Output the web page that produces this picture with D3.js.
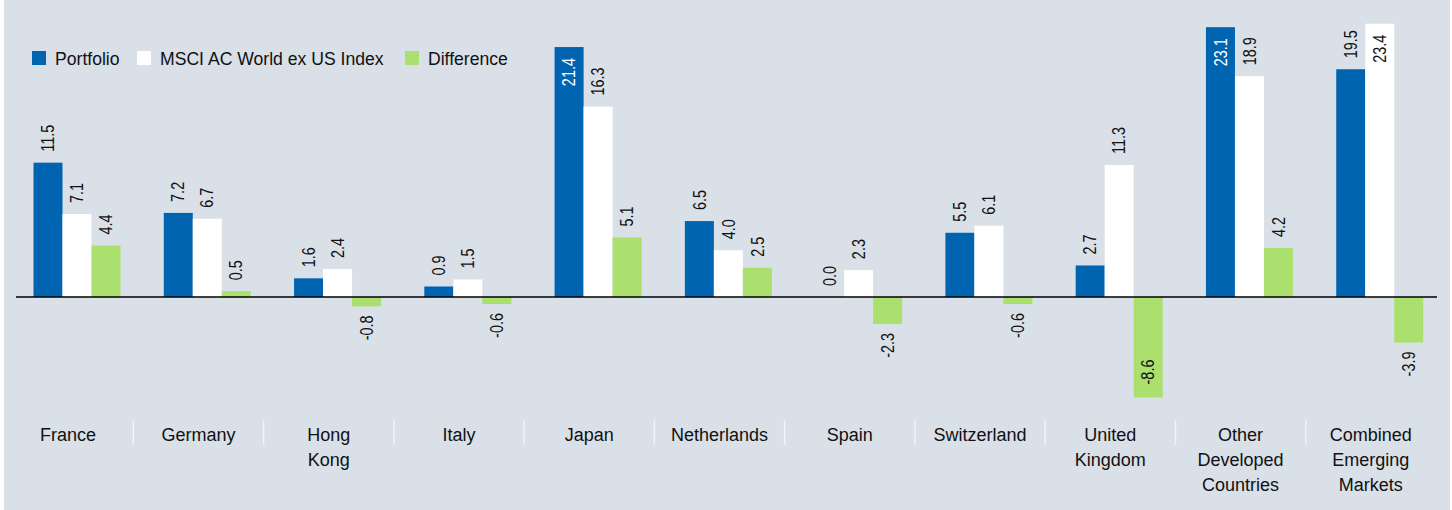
<!DOCTYPE html>
<html>
<head>
<meta charset="utf-8">
<script src="https://cdn.jsdelivr.net/npm/d3@7"></script>
<style>
  body { margin: 0; background: #ffffff; }
  svg { display: block; }
  text { font-family: "Liberation Sans Narrow", "Arial Narrow", "Liberation Sans", sans-serif; fill: #111; }
</style>
</head>
<body>
<svg id="chart" width="1452" height="510"></svg>
<script>
const categories = ["France", "Germany", "Hong Kong", "Italy", "Japan", "Netherlands",
  "Spain", "Switzerland", "United Kingdom", "Other Developed Countries", "Combined Emerging Markets"];
const categoryLines = [["France"], ["Germany"], ["Hong", "Kong"], ["Italy"], ["Japan"], ["Netherlands"],
  ["Spain"], ["Switzerland"], ["United", "Kingdom"], ["Other", "Developed", "Countries"], ["Combined", "Emerging", "Markets"]];
const portfolio = [11.5, 7.2, 1.6, 0.9, 21.4, 6.5, 0.0, 5.5, 2.7, 23.1, 19.5];
const benchmark = [7.1, 6.7, 2.4, 1.5, 16.3, 4.0, 2.3, 6.1, 11.3, 18.9, 23.4];
const difference = [4.4, 0.5, -0.8, -0.6, 5.1, 2.5, -2.3, -0.6, -8.6, 4.2, -3.9];
const seriesNames = ["Portfolio", "MSCI AC World ex US Index", "Difference"];
const seriesColors = ["#0064b1", "#ffffff", "#abdf6e"];

const svg = d3.select("#chart");
svg.append("rect").attr("x", 4).attr("y", 0).attr("width", 1446).attr("height", 510).attr("fill", "#d9e0e8");

let x0 = d3.scaleBand().domain(categories).range([3, 1436]);
let x1 = d3.scaleBand().domain(seriesNames).range([30.5, 30.5 + 87]);
let y = d3.scaleLinear().domain([0, 25]).range([297, 297 - 25 * 11.68]);

let rows = [];
categories.forEach((c, i) => {
  [portfolio[i], benchmark[i], difference[i]].forEach((v, s) => {
    rows.push({ cat: c, series: seriesNames[s], s: s, value: v });
  });
});

// bars
svg.selectAll("rect.bar")
  .data(rows)
  .enter()
  .append("rect")
  .attr("class", "bar")
  .attr("x", (d) => x0(d.cat) + x1(d.series))
  .attr("y", (d) => y(Math.max(0, d.value)))
  .attr("width", x1.bandwidth())
  .attr("height", (d) => Math.abs(y(d.value) - y(0)))
  .attr("fill", (d) => seriesColors[d.s]);

// zero line
svg.append("line")
  .attr("x1", 16).attr("x2", 1437)
  .attr("y1", y(0)).attr("y2", y(0))
  .attr("stroke", "#000").attr("stroke-width", 1.5);

// value labels (condensed by a horizontal scale, the original uses a narrow face)
svg.selectAll("text.val")
  .data(rows)
  .enter()
  .append("text")
  .attr("class", "val")
  .attr("font-size", 19)
  .attr("dominant-baseline", "central")
  .each(function (d) {
    let cx = x0(d.cat) + x1(d.series) + x1.bandwidth() / 2;
    let yv = y(d.value);
    let pos, anchor, fill = "#111";
    if (d.value >= 0) {
      if (yv - 40 < 15) {
        pos = yv + 11; anchor = "end";
        if (d.s === 0) fill = "#ffffff";
      } else {
        pos = yv - 11; anchor = "start";
      }
    } else {
      if (yv + 40 > 400) {
        pos = yv - 13; anchor = "start";
      } else {
        pos = yv + 9; anchor = "end";
      }
    }
    d3.select(this)
      .attr("transform", "translate(" + cx + "," + pos + ") rotate(-90) scale(0.76,1)")
      .attr("text-anchor", anchor)
      .style("fill", fill)
      .text(d.value.toFixed(1));
  });

// category separators
svg.selectAll("line.sep")
  .data(categories.slice(1))
  .enter()
  .append("line")
  .attr("class", "sep")
  .attr("x1", (c) => x0(c)).attr("x2", (c) => x0(c))
  .attr("y1", 420).attr("y2", 445)
  .attr("stroke", "#f0f3f7").attr("stroke-width", 1.5);

// category labels
let catText = svg.selectAll("text.cat")
  .data(categories)
  .enter()
  .append("text")
  .attr("class", "cat")
  .attr("font-size", 18)
  .attr("text-anchor", "middle")
  .attr("x", (c) => x0(c) + x0.bandwidth() / 2)
  .attr("y", 441);
catText.each(function (c, i) {
  categoryLines[i].forEach((line, j) => {
    d3.select(this).append("tspan")
      .attr("x", x0(c) + x0.bandwidth() / 2)
      .attr("dy", j === 0 ? 0 : 25)
      .text(line);
  });
});

// legend
const legendX = [32, 137, 405];
seriesNames.forEach((name, i) => {
  svg.append("rect")
    .attr("x", legendX[i]).attr("y", 51)
    .attr("width", 14).attr("height", 14)
    .attr("fill", seriesColors[i]);
  svg.append("text")
    .attr("x", legendX[i] + 23).attr("y", 65)
    .attr("font-size", 17.6)
    .text(name);
});
</script>
</body>
</html>
